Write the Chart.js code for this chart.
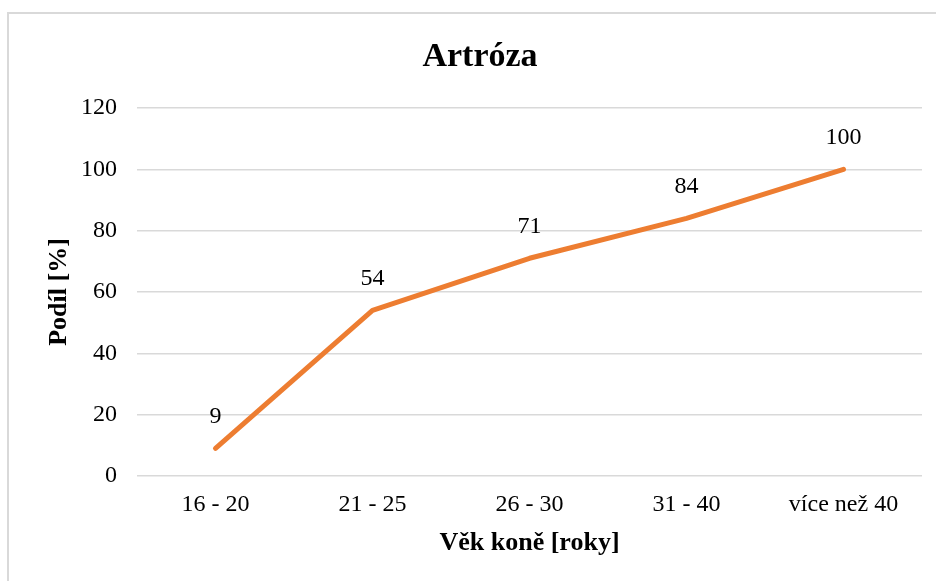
<!DOCTYPE html>
<html>
<head>
<meta charset="utf-8">
<script src="https://cdn.jsdelivr.net/npm/chart.js@4"></script>
<style>
html,body{margin:0;padding:0;background:#fff;}
#wrap{width:936px;height:581px;}
</style>
</head>
<body>
<div id="wrap"><canvas id="c" width="936" height="581"></canvas></div>
<script>
const categories = ['16 - 20', '21 - 25', '26 - 30', '31 - 40', 'více než 40'];
const values = [9, 54, 71, 84, 100];
const yTicks = [0, 20, 40, 60, 80, 100, 120];
const titleText = 'Artróza';
const xTitle = 'Věk koně [roky]';
const yTitle = 'Podíl [%]';

const FONT = '"Liberation Serif", "Times New Roman", serif';

const frame = {
  id: 'frame',
  beforeDraw(chart) {
    const ctx = chart.ctx;
    ctx.save();
    ctx.fillStyle = '#fff';
    ctx.fillRect(0, 0, chart.width, chart.height);
    ctx.strokeStyle = '#d9d9d9';
    ctx.lineWidth = 2;
    ctx.strokeRect(8, 13, chart.width + 20, chart.height + 20);
    ctx.restore();
  },
  afterDraw(chart) {
    const ctx = chart.ctx;
    ctx.save();
    ctx.font = 'bold 34px ' + FONT;
    ctx.fillStyle = '#000';
    ctx.textAlign = 'center';
    ctx.textBaseline = 'alphabetic';
    ctx.fillText(titleText, 480, 66);
    ctx.restore();
  }
};

const labels = {
  id: 'valueLabels',
  afterDatasetsDraw(chart) {
    const ctx = chart.ctx;
    const meta = chart.getDatasetMeta(0);
    ctx.save();
    ctx.font = '24px ' + FONT;
    ctx.fillStyle = '#000';
    ctx.textAlign = 'center';
    ctx.textBaseline = 'middle';
    meta.data.forEach((pt, i) => {
      ctx.fillText(String(chart.data.datasets[0].data[i]), pt.x, pt.y - 32);
    });
    ctx.restore();
  }
};

new Chart(document.getElementById('c'), {
  type: 'line',
  data: {
    labels: categories,
    datasets: [{
      data: values,
      borderColor: '#ED7D31',
      borderWidth: 5,
      borderCapStyle: 'round',
      borderJoinStyle: 'round',
      pointRadius: 0,
      tension: 0,
      fill: false
    }]
  },
  options: {
    responsive: false,
    animation: false,
    layout: { padding: { left: 8, right: 14, top: 108, bottom: 0 } },
    plugins: {
      legend: { display: false },
      tooltip: { enabled: false },
      title: { display: false }
    },
    scales: {
      x: {
        offset: true,
        grid: { display: false, drawTicks: false },
        border: { display: false },
        ticks: { color: '#000', font: { family: FONT, size: 24 }, padding: 14, maxRotation: 0, autoSkip: false },
        title: {
          display: true, text: xTitle, color: '#000',
          font: { family: FONT, size: 26, weight: 'bold', lineHeight: 1.2 },
          padding: { top: 0, bottom: 22 }
        },
        afterFit(s) { s.height = 105; }
      },
      y: {
        min: 0, max: 120,
        afterBuildTicks(s) { s.ticks = yTicks.map(v => ({ value: v })); },
        grid: { color: '#d9d9d9', lineWidth: 1.5, drawTicks: false },
        border: { display: false },
        ticks: { color: '#000', font: { family: FONT, size: 24 }, padding: 20 },
        title: {
          display: true, text: yTitle, color: '#000',
          font: { family: FONT, size: 26, weight: 'bold', lineHeight: 1.2 },
          padding: { top: 36, bottom: 0 }
        },
        afterFit(s) { s.width = 129; }
      }
    }
  },
  plugins: [frame, labels]
});
</script>
</body>
</html>
